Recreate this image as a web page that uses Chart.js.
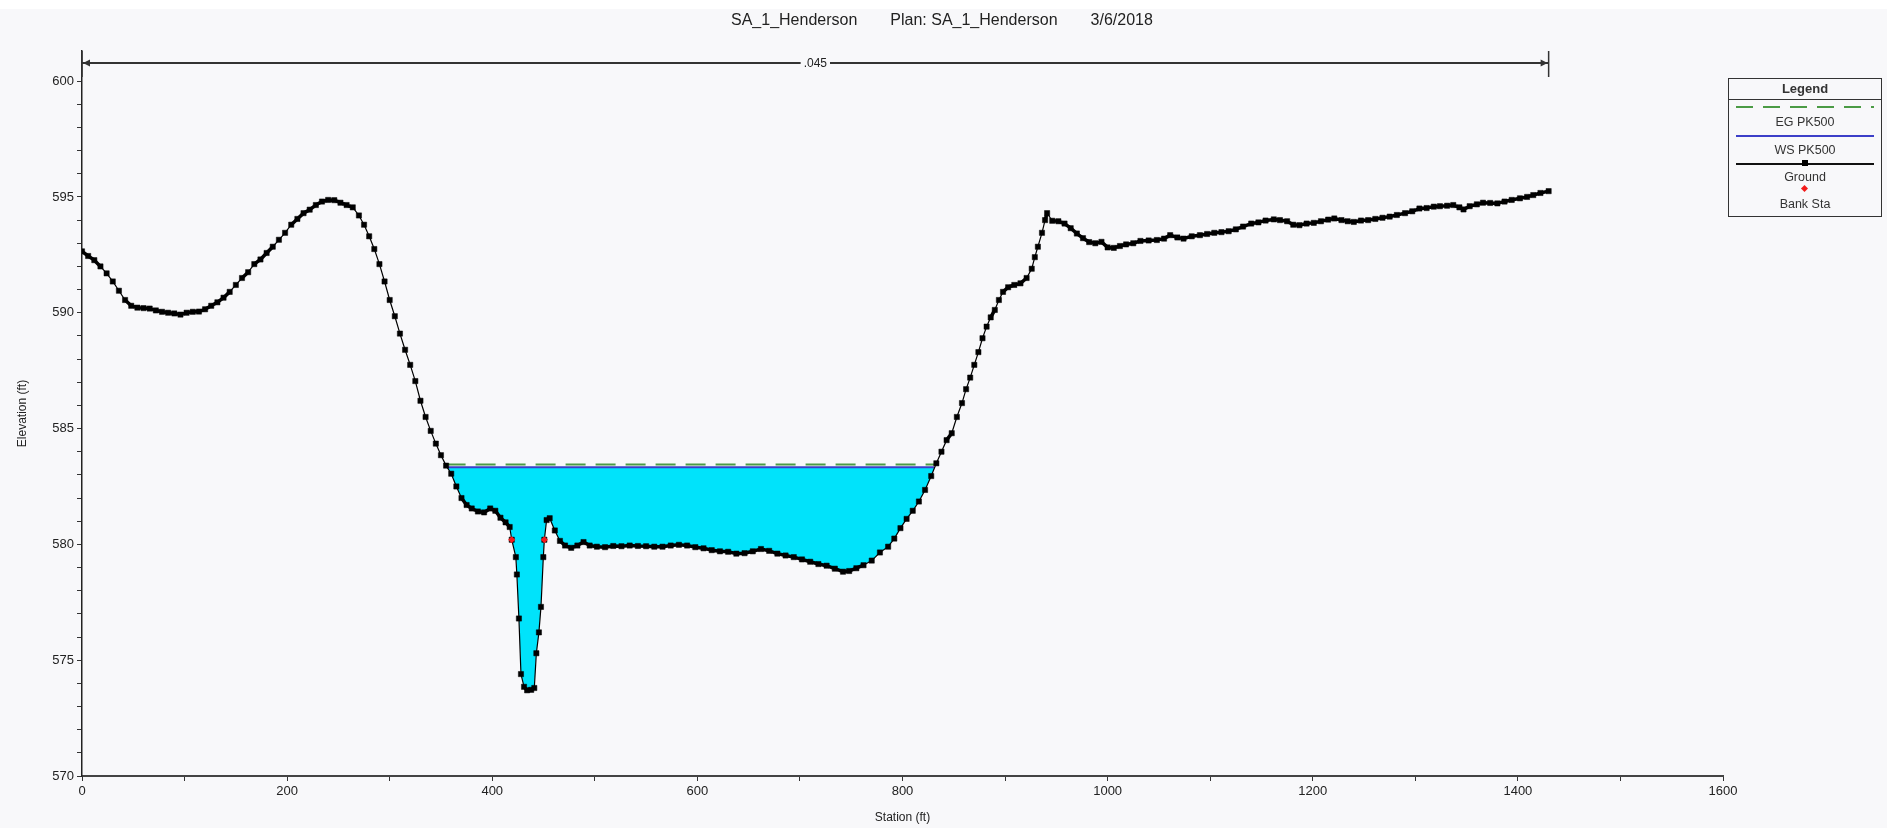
<!DOCTYPE html>
<html>
<head>
<meta charset="utf-8">
<title>SA_1_Henderson cross section</title>
<script src="https://cdn.jsdelivr.net/npm/chart.js@4.4.1/dist/chart.umd.min.js"></script>
<style>
  html, body { margin: 0; padding: 0; background: #fff; }
  #wrap {
    position: relative; width: 1887px; height: 828px; overflow: hidden;
    background: linear-gradient(#fff 0 9px, #f8f8fa 9px);
    font-family: "Liberation Sans", Arial, sans-serif; color: #222;
  }
  #plot { position: absolute; left: 0; top: 0; }
  #title { position: absolute; left: 731px; top: 11px; font-size: 16px; white-space: nowrap; }
  #title span + span { margin-left: 33px; }
  #legend {
    position: absolute; left: 1728px; top: 78px; width: 152px; height: 137px;
    border: 1.5px solid #333; font-size: 12.5px; color: #333;
  }
  #legend .head {
    position: absolute; left: 0; top: 0; width: 100%; height: 20px;
    border-bottom: 1.5px solid #333; text-align: center; font-weight: bold;
    font-size: 13px; line-height: 20px;
  }
  #legend .txt { position: absolute; left: 0; width: 100%; text-align: center; line-height: 14px; }
  #legend .ln { position: absolute; left: 7px; right: 7px; height: 2px; }
  #legend .eg { background: repeating-linear-gradient(to right, #4b9b45 0 17px, transparent 17px 27px); }
  #legend .ws { background: #3c3fc8; }
  #legend .gr { background: #111; height: 1.5px; }
  #legend .sq { position: absolute; left: 73px; width: 6px; height: 6px; background: #000; }
  #legend .dm { position: absolute; left: 73px; width: 5px; height: 5px; background: #f21b1b; transform: rotate(45deg); }
</style>
</head>
<body>
<div id="wrap">
  <canvas id="plot" width="1887" height="828"></canvas>
  <div id="title"><span>SA_1_Henderson</span><span>Plan: SA_1_Henderson</span><span>3/6/2018</span></div>
  <div id="legend">
    <div class="head">Legend</div>
    <div class="ln eg" style="top:27px"></div>
    <div class="txt" style="top:36px">EG PK500</div>
    <div class="ln ws" style="top:56px"></div>
    <div class="txt" style="top:64px">WS PK500</div>
    <div class="ln gr" style="top:84px"></div>
    <div class="sq" style="top:81px"></div>
    <div class="txt" style="top:91px">Ground</div>
    <div class="dm" style="top:107px"></div>
    <div class="txt" style="top:118px">Bank Sta</div>
  </div>
</div>
<script>
// Ground survey, station (ft) / elevation (ft)
const groundStations = [
  0, 6, 12, 18, 24, 30, 36, 42, 48, 54, 60, 66, 72, 78, 84, 90, 96, 102, 108, 114,
  120, 126, 132, 138, 144, 150, 156, 162, 168, 174, 180, 186, 192, 198, 204, 210, 216, 222, 228, 234,
  240, 246, 252, 258, 264, 270, 275, 280, 285, 290, 295, 300, 305, 310, 315, 320, 325, 330, 335, 340,
  345, 350, 355, 360, 365, 370, 375, 380, 386, 392, 398, 403, 408, 413, 417, 419, 423, 424, 426, 428,
  431, 434, 438, 441, 443, 445.5, 447.5, 449.8, 450.8, 453, 456, 461, 466, 471, 477, 483, 489, 495, 502, 510,
  518, 526, 534, 542, 550, 558, 566, 574, 582, 590, 598, 606, 614, 622, 630, 638, 646, 654, 662, 670,
  678, 686, 694, 702, 710, 718, 726, 734, 742, 748, 755, 762, 770, 778, 786, 792, 798, 804, 810, 816,
  822, 828, 833, 838, 843, 848, 853, 858, 862, 866, 870, 874, 878, 882, 886, 890, 894, 898, 903, 909,
  915, 921, 926, 929, 932, 936, 939, 941, 946, 952, 958, 964, 970, 976, 982, 988, 994, 1000, 1006, 1012,
  1018, 1025, 1032, 1040, 1048, 1055, 1061, 1068, 1074, 1082, 1090, 1097, 1104, 1111, 1118, 1125, 1132, 1140, 1147, 1154,
  1162, 1168, 1175, 1181, 1187, 1194, 1201, 1208, 1215, 1221, 1228, 1234, 1240, 1247, 1254, 1261, 1268, 1275, 1282, 1290,
  1297, 1304, 1311, 1318, 1324, 1331, 1337, 1343, 1347, 1353, 1360, 1366, 1373, 1380, 1387, 1394, 1402, 1409, 1415, 1422,
  1430
];
const groundElevations = [
  592.65, 592.45, 592.27, 592.0, 591.7, 591.35, 590.95, 590.55, 590.3, 590.22, 590.2, 590.18, 590.1, 590.04, 590.0, 589.97, 589.92, 590.0, 590.04, 590.05,
  590.15, 590.3, 590.45, 590.65, 590.9, 591.2, 591.5, 591.75, 592.1, 592.3, 592.58, 592.85, 593.15, 593.45, 593.8, 594.05, 594.3, 594.45, 594.65, 594.8,
  594.87, 594.86, 594.75, 594.65, 594.55, 594.2, 593.8, 593.3, 592.75, 592.1, 591.35, 590.55, 589.85, 589.1, 588.4, 587.75, 587.05, 586.2, 585.5, 584.9,
  584.35, 583.85, 583.4, 583.05, 582.5, 582.0, 581.7, 581.55, 581.42, 581.38, 581.55, 581.45, 581.15, 580.95, 580.75, 580.2, 579.45, 578.7, 576.8, 574.4,
  573.85, 573.7, 573.72, 573.8, 575.3, 576.2, 577.3, 579.45, 580.2, 581.05, 581.13, 580.6, 580.15, 579.95, 579.85, 579.95, 580.1, 579.95, 579.9, 579.88,
  579.93, 579.92, 579.95, 579.93, 579.92, 579.9, 579.9, 579.95, 579.98, 579.95, 579.88, 579.83, 579.75, 579.7, 579.68, 579.6, 579.62, 579.7, 579.8, 579.72,
  579.6, 579.52, 579.45, 579.35, 579.25, 579.15, 579.08, 578.95, 578.82, 578.85, 578.97, 579.1, 579.3, 579.65, 579.9, 580.25, 580.7, 581.1, 581.45, 581.85,
  582.35, 582.95, 583.5, 584.0, 584.5, 584.8, 585.5, 586.1, 586.7, 587.2, 587.75, 588.3, 588.9, 589.4, 589.8, 590.12, 590.55, 590.9, 591.1, 591.2,
  591.27, 591.5, 591.9, 592.4, 592.85, 593.45, 594.0, 594.3, 593.97, 593.95, 593.85, 593.65, 593.42, 593.22, 593.05, 593.0, 593.06, 592.82, 592.8, 592.88,
  592.95, 593.0, 593.1, 593.12, 593.14, 593.2, 593.35, 593.25, 593.2, 593.3, 593.35, 593.4, 593.45, 593.48, 593.52, 593.6, 593.72, 593.85, 593.9, 593.98,
  594.03, 594.0, 593.95, 593.8, 593.78, 593.85, 593.88, 593.95, 594.02, 594.07, 594.0, 593.95, 593.92, 593.98, 594.0, 594.05, 594.1, 594.15, 594.22, 594.3,
  594.38, 594.5, 594.52, 594.58, 594.6, 594.62, 594.65, 594.55, 594.46, 594.6, 594.68, 594.75, 594.74, 594.72, 594.8, 594.87, 594.94, 595.0, 595.08, 595.17,
  595.25
];

// Bank stations
const bankStations = [419, 450.8];
const bankElevations = [580.2, 580.2];

// Profile PK500 results
const wsStations = [356, 830.7];
const wsElevations = [583.33, 583.33];
const egStations = [354.5, 832];
const egElevations = [583.45, 583.45];

// Manning's n over the section
const nValueStations = [0, 1430];
const nValueLabels = ['.045'];

// Axes
const xMin = 0, xMax = 1600, xMinorStep = 100, xLabelStep = 200;
const yMin = 570, yTop = 601.3, yTickMax = 600, yMinorStep = 1, yLabelStep = 5;

function toPoints(xs, ys) {
  return xs.map((x, i) => ({ x: x, y: ys[i] }));
}

// Draws the n-value extent arrow with its label above the section
const nValuePlugin = {
  id: 'nValues',
  afterDatasetsDraw(chart) {
    const { ctx, chartArea, scales: { x } } = chart;
    const x0 = x.getPixelForValue(nValueStations[0]);
    const x1 = x.getPixelForValue(nValueStations[1]);
    const yl = chartArea.top + 12;
    const label = nValueLabels[0];
    ctx.save();
    ctx.font = '12px "Liberation Sans", Arial, sans-serif';
    const tw = ctx.measureText(label).width;
    const xm = (x0 + x1) / 2;
    ctx.strokeStyle = '#333';
    ctx.fillStyle = '#333';
    ctx.lineWidth = 2.2;
    ctx.beginPath();
    ctx.moveTo(x0, yl); ctx.lineTo(xm - tw / 2 - 3, yl);
    ctx.moveTo(xm + tw / 2 + 3, yl); ctx.lineTo(x1, yl);
    ctx.stroke();
    // end ticks
    ctx.lineWidth = 1.5;
    ctx.beginPath();
    ctx.moveTo(x0, chartArea.top); ctx.lineTo(x0, chartArea.top + 26);
    ctx.moveTo(x1, chartArea.top); ctx.lineTo(x1, chartArea.top + 26);
    ctx.stroke();
    // arrowheads
    ctx.beginPath();
    ctx.moveTo(x0 + 1, yl); ctx.lineTo(x0 + 8, yl - 3.5); ctx.lineTo(x0 + 8, yl + 3.5); ctx.closePath();
    ctx.moveTo(x1 - 1, yl); ctx.lineTo(x1 - 8, yl - 3.5); ctx.lineTo(x1 - 8, yl + 3.5); ctx.closePath();
    ctx.fill();
    ctx.fillStyle = '#222';
    ctx.textAlign = 'center';
    ctx.textBaseline = 'middle';
    ctx.fillText(label, xm, yl + 1);
    ctx.restore();
  }
};

const tickFont = { family: '"Liberation Sans", Arial, sans-serif', size: 13 };

// dense survey points merge into a heavy line, sparse ones show only the thin link
function groundSegmentColor(c) {
  const d = Math.hypot(c.p1.x - c.p0.x, c.p1.y - c.p0.y);
  return d < 9 ? '#000' : 'rgba(0,0,0,0)';
}

const groundPoints = toPoints(groundStations, groundElevations);

const chart = new Chart(document.getElementById('plot').getContext('2d'), {
  type: 'line',
  data: {
    datasets: [
      {
        label: 'Bank Sta',
        data: toPoints(bankStations, bankElevations),
        showLine: false,
        pointStyle: 'rectRot',
        pointRadius: 3.6,
        pointBackgroundColor: '#f21b1b',
        pointBorderColor: '#f21b1b',
        pointBorderWidth: 0
      },
      {
        // heavy trace where the ground markers run together
        label: 'Ground trace',
        data: groundPoints,
        borderColor: '#000',
        borderWidth: 3.5,
        borderJoinStyle: 'round',
        segment: { borderColor: groundSegmentColor },
        pointRadius: 0,
        tension: 0
      },
      {
        label: 'Ground',
        data: groundPoints,
        borderColor: '#000',
        borderWidth: 1.2,
        pointStyle: 'rect',
        pointRadius: 3.7,
        pointBackgroundColor: '#000',
        pointBorderColor: '#000',
        pointBorderWidth: 0.5,
        tension: 0
      },
      {
        label: 'EG PK500',
        data: toPoints(egStations, egElevations),
        borderColor: '#4b9b45',
        borderWidth: 2,
        borderDash: [20, 10],
        pointRadius: 0
      },
      {
        label: 'WS PK500',
        data: toPoints(wsStations, wsElevations),
        borderColor: '#3c3fc8',
        borderWidth: 2,
        pointRadius: 0,
        fill: { target: 2, above: '#00e3fb', below: 'rgba(0,0,0,0)' }
      }
    ]
  },
  options: {
    responsive: false,
    animation: false,
    events: [],
    layout: { padding: { top: 51, right: 164, bottom: 0, left: 0 } },
    scales: {
      x: {
        type: 'linear',
        min: xMin,
        max: xMax,
        afterFit: s => { s.height = 52; },
        border: { display: true, color: '#444', width: 2 },
        grid: { drawOnChartArea: false, drawTicks: true, tickLength: 5, tickColor: '#333' },
        ticks: {
          stepSize: xMinorStep,
          autoSkip: false,
          maxRotation: 0,
          padding: 3,
          color: '#222',
          font: tickFont,
          callback: v => (v % xLabelStep === 0 ? String(v) : '')
        },
        title: {
          display: true,
          text: 'Station (ft)',
          color: '#222',
          font: { family: '"Liberation Sans", Arial, sans-serif', size: 12 },
          padding: { top: 0, bottom: 3 }
        }
      },
      y: {
        type: 'linear',
        min: yMin,
        max: yTop,
        afterFit: s => { s.width = 82; },
        afterBuildTicks: s => {
          const t = [];
          for (let v = yMin; v <= yTickMax; v += yMinorStep) t.push({ value: v });
          s.ticks = t;
        },
        border: { display: true, color: '#222', width: 1.5 },
        grid: { drawOnChartArea: false, drawTicks: true, tickLength: 5, tickColor: '#333' },
        ticks: {
          padding: 3,
          color: '#222',
          font: tickFont,
          callback: v => (v % yLabelStep === 0 ? String(v) : '')
        },
        title: {
          display: true,
          text: 'Elevation (ft)',
          color: '#222',
          font: { family: '"Liberation Sans", Arial, sans-serif', size: 12 },
          padding: { top: 15, bottom: 0 }
        }
      }
    },
    plugins: {
      legend: { display: false },
      tooltip: { enabled: false }
    }
  },
  plugins: [nValuePlugin]
});
</script>
</body>
</html>
